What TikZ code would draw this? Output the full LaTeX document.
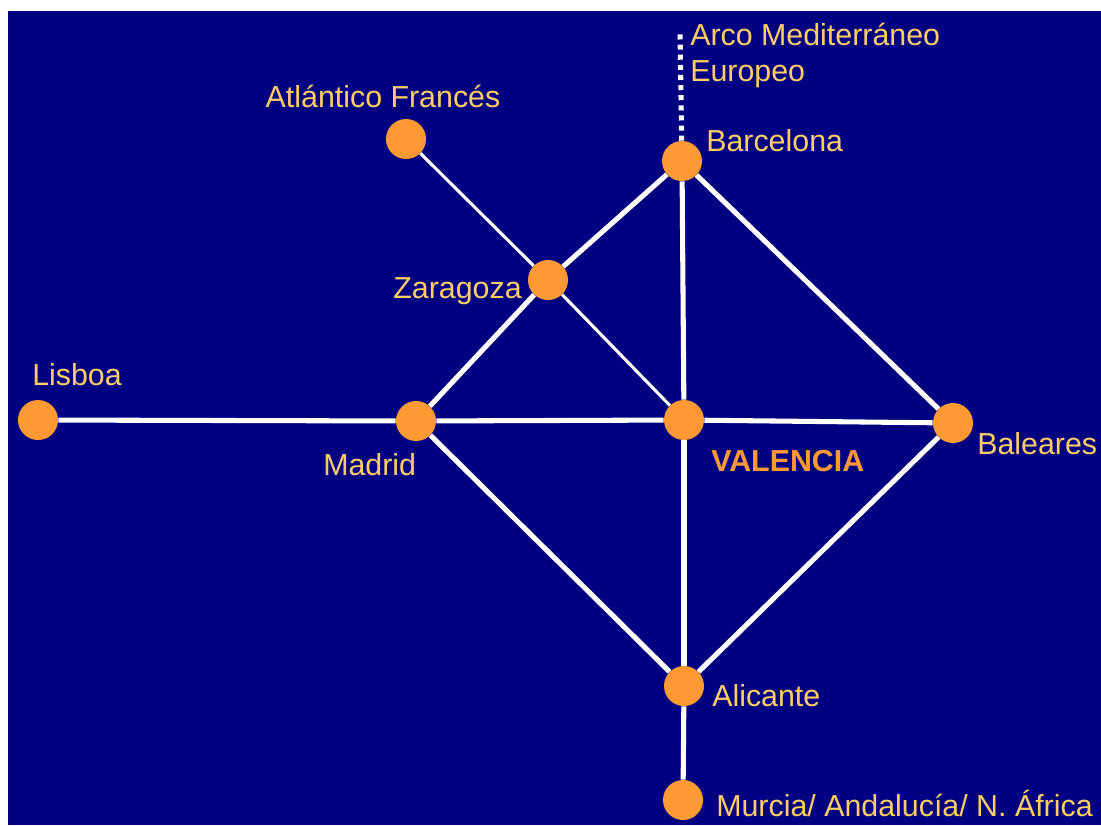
\documentclass[tikz,border=0pt]{standalone}
\usepackage{fontspec}
\setmainfont{Liberation Sans}
\usetikzlibrary{positioning}
\definecolor{navy}{HTML}{000080}
\definecolor{cityorange}{HTML}{FF9933}
\definecolor{labelgold}{HTML}{FFCC66}
\begin{document}
\begin{tikzpicture}[x=0.025cm, y=-0.025cm]
\tikzstyle{city}=[circle, fill=cityorange, minimum size=1cm, inner sep=0pt]
\tikzstyle{rail}=[white, line width=3.6pt]
\tikzstyle{thinrail}=[white, line width=2.2pt]
\tikzstyle{dotrail}=[white, line width=3.6pt, dash pattern=on 3.6pt off 3.6pt]
\tikzstyle{lbl}=[text=labelgold, font=\fontsize{21.6}{25}\selectfont, anchor=base west, inner sep=0pt]
\useasboundingbox (0,0) rectangle (1101,825);
\fill[white] (0,0) rectangle (1101,825);
\fill[navy] (8,11) rectangle (1101,825);

% cities
\node[city] (atl) at (406,139) {}; \node[city] (bcn) at (682,161) {}; \node[city] (zar) at (548,280) {};
\node[city] (lis) at (38,420) {}; \node[city] (mad) at (416,421) {}; \node[city] (val) at (684,420) {};
\node[city] (bal) at (953,423) {}; \node[city] (ali) at (684,686) {}; \node[city] (mur) at (683,800) {};
\coordinate (arcoend) at (680,30);

% links
\draw[rail] (lis) -- (mad); \draw[rail] (mad) -- (val); \draw[rail] (val) -- (bal);
\draw[rail] (mad) -- (zar); \draw[rail] (zar) -- (bcn); \draw[rail] (bcn) -- (val);
\draw[rail] (bcn) -- (bal); \draw[rail] (mad) -- (ali); \draw[rail] (bal) -- (ali);
\draw[rail] (val) -- (ali); \draw[rail] (ali) -- (mur);
\draw[thinrail] (atl) -- (zar); \draw[thinrail] (zar) -- (val);
\draw[dotrail] (bcn) -- (arcoend);

% labels
\node[lbl] (arco) at (690,45) {Arco Mediterráneo};
\node[lbl] (euro) at (690,81) {Europeo};
\node[lbl, anchor=base] (atllbl) at (383,107) {Atlántico Francés};
\node[lbl] (bcnlbl) at (706,151) {Barcelona};
\node[lbl, anchor=base east] (zarlbl) at (522,298) {Zaragoza};
\node[lbl] (lislbl) at (32,385) {Lisboa};
\node[lbl] (madlbl) at (323,475) {Madrid};
\node[lbl, text=cityorange, font=\fontsize{21.6}{25}\selectfont\bfseries] (vallbl) at (711,471) {VALENCIA};
\node[lbl] (ballbl) at (977,454) {Baleares};
\node[lbl] (alilbl) at (712,706) {Alicante};
\node[lbl] (murlbl) at (716,816) {Murcia/ Andalucía/ N. África};
\end{tikzpicture}
\end{document}
